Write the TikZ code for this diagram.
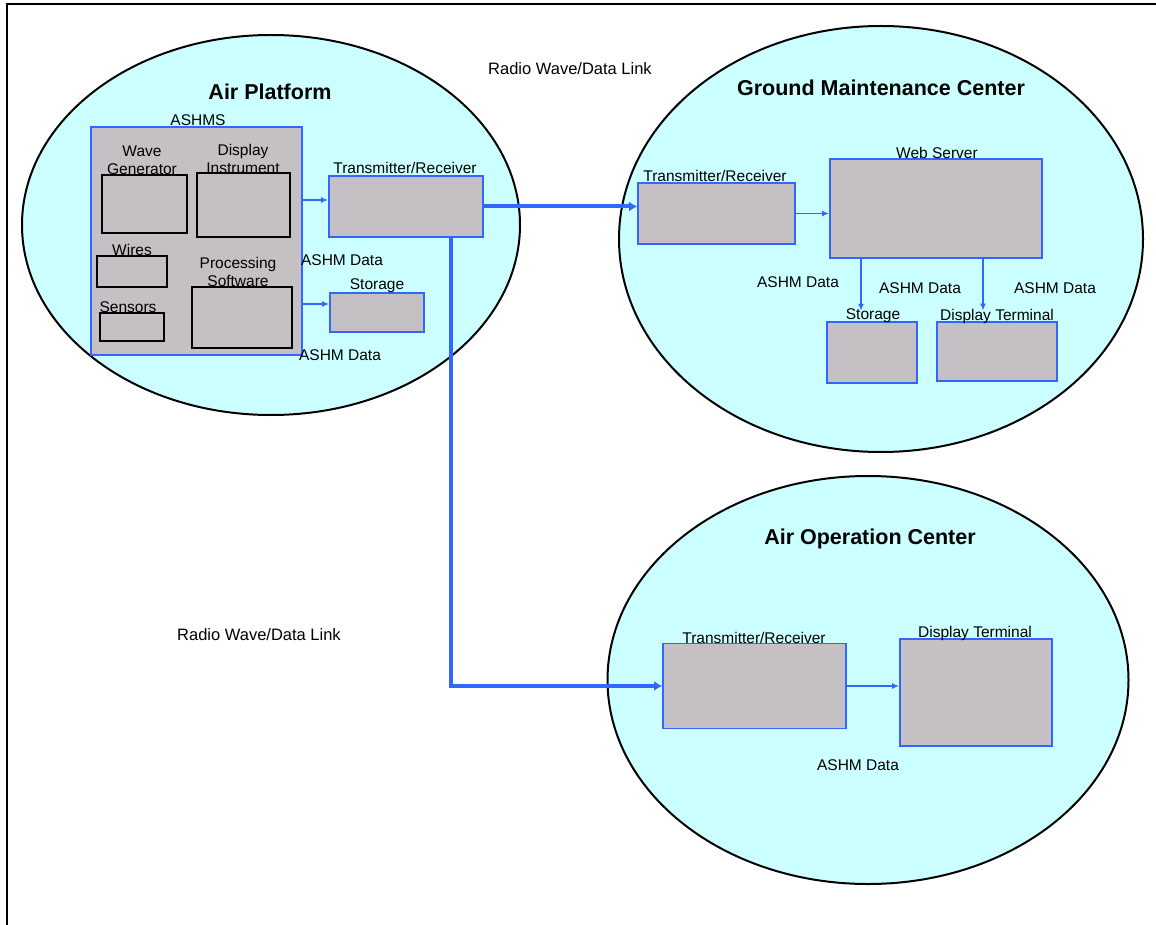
\documentclass[tikz,border=0pt]{standalone}
\usepackage{fontspec}
\setmainfont{Liberation Sans}
\usetikzlibrary{shapes.geometric,arrows.meta}
\definecolor{cyanfill}{HTML}{CCFFFF}
\definecolor{boxgray}{HTML}{C4C0C4}
\definecolor{linkblue}{HTML}{3366FF}
\tikzset{
  region/.style={ellipse, draw=black, fill=cyanfill, line width=2pt, inner sep=0pt},
  bluebox/.style={draw=linkblue, fill=boxgray, line width=1.8pt, inner sep=0pt},
  blackbox/.style={draw=black, fill=boxgray, line width=1.6pt, inner sep=0pt},
  lbl/.style={inner sep=0pt, font=\fontsize{15.5}{17}\selectfont, align=center},
  ttl/.style={inner sep=0pt, font=\fontsize{21.5}{25}\selectfont\bfseries},
  radio/.style={inner sep=0pt, font=\fontsize{16.5}{19}\selectfont},
  arr/.style={draw=linkblue, line width=1.8pt, -{Latex[length=7pt,width=6pt]}},
  link/.style={draw=linkblue, line width=4pt, -{Latex[length=8pt,width=10pt]}},
  frameline/.style={draw=black, line width=2pt}
}
\begin{document}
\begin{tikzpicture}[x=1pt,y=-1pt]
\useasboundingbox (0,0) rectangle (1156,925);
% frame
\coordinate (fA) at (7,925);
\coordinate (fB) at (7,4);
\coordinate (fC) at (1156,4);
\draw[frameline] (fA) -- (fB) -- (fC);

% regions
\node[region, minimum width=498pt, minimum height=380pt] (ap) at (271,225) {};
\node[region, minimum width=524pt, minimum height=426pt] (gmc) at (881,239) {};
\node[region, minimum width=521pt, minimum height=408pt] (aoc) at (868,680) {};

% titles
\node[ttl] (apt) at (270,92) {Air Platform};
\node[ttl] (gmct) at (881,88) {Ground Maintenance Center};
\node[ttl] (aoct) at (870,539) {Air Operation Center};
\node[radio] (rw1) at (570,69) {Radio Wave/Data Link};
\node[radio] (rw2) at (259,635) {Radio Wave/Data Link};

% Air platform boxes
\node[bluebox, minimum width=211pt, minimum height=228pt] (ashms) at (196.5,241) {};
\node[blackbox, minimum width=85pt, minimum height=58pt] (wave) at (144.5,204) {};
\node[blackbox, minimum width=93pt, minimum height=64pt] (disp) at (243.5,205) {};
\node[blackbox, minimum width=70pt, minimum height=31pt] (wires) at (132,271.5) {};
\node[blackbox, minimum width=100pt, minimum height=61pt] (proc) at (242,317.5) {};
\node[blackbox, minimum width=64pt, minimum height=28pt] (sens) at (132,327) {};
\node[bluebox, minimum width=154pt, minimum height=61pt] (aptr) at (406,206.5) {};
\node[bluebox, minimum width=94pt, minimum height=39pt] (apst) at (377,312.5) {};

\node[lbl] (ashmsl) at (198,120) {ASHMS};
\node[lbl] (wavel) at (142,160) {Wave\\[1pt]Generator};
\node[lbl] (displ) at (243,159) {Display\\[1pt]Instrument};
\node[lbl] (wiresl) at (132,250) {Wires};
\node[lbl] (procl) at (238,272) {Processing\\[1pt]Software};
\node[lbl] (sensl) at (128,307) {Sensors};
\node[lbl] (aptrl) at (405,168) {Transmitter/Receiver};
\node[lbl] (apd1) at (342,260) {ASHM Data};
\node[lbl] (apstl) at (377,286) {Storage};
\node[lbl] (apd2) at (340,355) {ASHM Data};

% Ground maintenance center boxes
\node[bluebox, minimum width=157pt, minimum height=61pt] (gtr) at (716.5,213.5) {};
\node[bluebox, minimum width=212pt, minimum height=99pt] (web) at (936,208.5) {};
\node[bluebox, minimum width=90pt, minimum height=61pt] (gst) at (872,352.5) {};
\node[bluebox, minimum width=120pt, minimum height=59pt] (gdt) at (997,351.5) {};

\node[lbl] (gtrl) at (715,176) {Transmitter/Receiver};
\node[lbl] (webl) at (937,153) {Web Server};
\node[lbl] (gd1) at (798,282) {ASHM Data};
\node[lbl] (gd2) at (920,288) {ASHM Data};
\node[lbl] (gd3) at (1055,288) {ASHM Data};
\node[lbl] (gstl) at (873,316) {Storage};
\node[lbl] (gdtl) at (997,316) {Display Terminal};

% Air operation center boxes
\node[bluebox, minimum width=183pt, minimum height=85pt] (otr) at (754.5,686) {};
\node[bluebox, minimum width=152pt, minimum height=107pt] (odt) at (976,692.5) {};
\node[lbl] (otrl) at (754,638) {Transmitter/Receiver};
\node[lbl] (odtl) at (975,633) {Display Terminal};
\node[lbl] (od1) at (858,765) {ASHM Data};

% connectors
\coordinate (a1) at (302,200);
\coordinate (a2) at (302,304);
\draw[arr] (a1) -- (a1 -| aptr.west);
\draw[arr] (a2) -- (a2 -| apst.west);
\draw[link] (aptr.east) -- (aptr.east -| gtr.west);
\coordinate (drop) at (451,237);
\draw[link] (drop) |- (otr.west);
\draw[arr] (gtr.east) -- (gtr.east -| web.west);
\draw[arr] ([xshift=-12pt]web.south -| gstl.north) -- ([xshift=-12pt,yshift=-2pt]gstl.north);
\draw[arr] ([xshift=-14pt]web.south -| gdtl.north) -- ([xshift=-14pt,yshift=-2pt]gdtl.north);
\draw[arr] (otr.east) -- (otr.east -| odt.west);
\end{tikzpicture}
\end{document}
